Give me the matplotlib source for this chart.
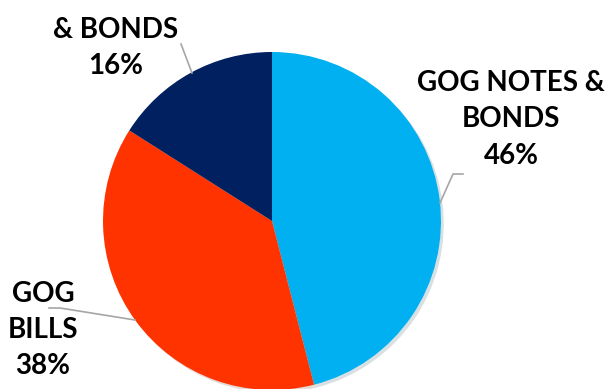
import matplotlib.pyplot as plt
from matplotlib.patches import Shadow

# data
labels = ["GOG NOTES &\nBONDS", "GOG\nBILLS", "& BONDS"]
shares = [46, 38, 16]
colors = ["#00B0F0", "#FF3300", "#002060"]

# label positions (pixel coords, y from top) and leader lines
label_pos = [(511, 119), (43, 330), (116, 48)]
leaders = [
    [(463, 174), (453, 174), (440, 203)],
    [(49, 308), (60, 308), (135, 320)],
    [(181, 44), (192, 73)],
]

W, H = 608, 389
fig = plt.figure(figsize=(W / 100, H / 100), dpi=100)
ax = fig.add_axes([0, 0, 1, 1])
ax.set_xlim(0, W)
ax.set_ylim(0, H)
ax.axis("off")

wedges, _ = ax.pie(shares, colors=colors, startangle=90, counterclock=False,
                   center=(272, H - 221), radius=169,
                   wedgeprops=dict(linewidth=0))
ax.set_xlim(0, W)
ax.set_ylim(0, H)
ax.set_aspect("equal")

# soft shadow under the pie
for w in wedges:
    s = Shadow(w, 2, -2, alpha=0.15)
    s.set_zorder(w.get_zorder() - 1)
    ax.add_patch(s)

#labels with percentages
for lab, sh, (x, y) in zip(labels, shares, label_pos):
    ax.text(x, H - y, lab + "\n" + str(sh) + "%", ha="center", va="center",
            fontsize=20, fontweight="bold", family="Lato", linespacing=1.5,
            color="black")

for pts in leaders:
    xs = [p[0] for p in pts]
    ys = [H - p[1] for p in pts]
    ax.plot(xs, ys, color="#A6A6A6", lw=1.2)

fig.savefig("out.png", dpi=100)
